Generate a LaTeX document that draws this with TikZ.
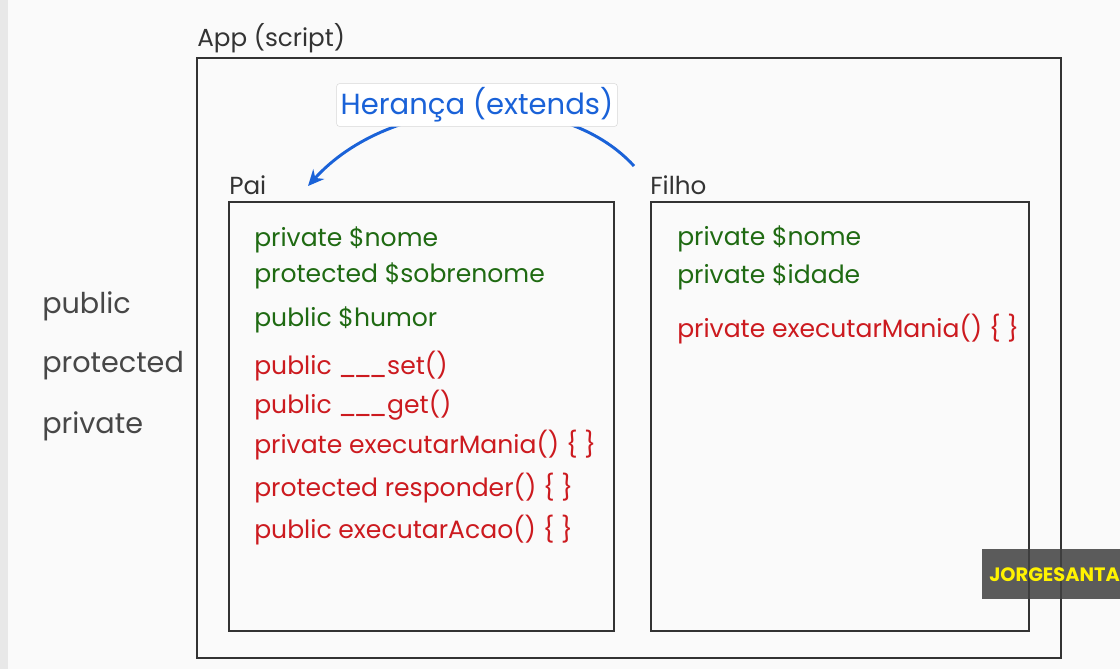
\documentclass[tikz,border=0pt]{standalone}
\usepackage{fontspec}
\setmainfont{Poppins}
\usetikzlibrary{arrows.meta}
\definecolor{ink}{HTML}{333333}
\definecolor{grn}{HTML}{1F6A12}
\definecolor{rd}{HTML}{CC1A1F}
\definecolor{blu}{HTML}{1A62D8}
\newcommand{\usc}{\_\kern-2.4pt\_\kern-2.4pt\_}
\tikzset{
  frame/.style={draw=ink, line width=1.5pt},
  lbl/.style={text=ink, anchor=west, inner sep=0pt, font=\fontsize{18.5}{22}\selectfont},
  side/.style={text=ink!90, anchor=west, inner sep=0pt, font=\fontsize{21.5}{24}\selectfont},
  attr/.style={text=grn, anchor=west, inner sep=0pt, yshift=-1.5pt, font=\fontsize{18.8}{22}\selectfont},
  meth/.style={text=rd, anchor=west, inner sep=0pt, yshift=-1.5pt, font=\fontsize{18.8}{22}\selectfont},
}
\begin{document}
\begin{tikzpicture}[x=0.75pt,y=-0.75pt]
\useasboundingbox (0,0) rectangle (1120,669);
\fill[white!98!black] (0,0) rectangle (1120,669);
\fill[black!9] (0,0) rectangle (8,669);
% outer box
\node[lbl] (applbl) at (197,38) {App (script)};
\draw[frame] (197,58) rectangle (1061,658);
% Pai
\node[lbl] (pailbl) at (229,185) {Pai};
\draw[frame] (229,202) rectangle (614,631);
\coordinate (paitip) at (308,186);
% Filho
\node[lbl] (filholbl) at (650,185) {Filho};
\draw[frame] (651,202) rectangle (1029,631);
\coordinate (filhostart) at (634,166);
% inheritance arrow
\draw[blu, line width=2.2pt, -{Stealth[length=12pt,width=11pt]}] (filhostart) .. controls (560,85) and (390,95) .. (paitip);
\node[draw=black!15, fill=white, rounded corners=2pt, inner sep=3pt, text=blu, font=\fontsize{21.8}{25}\selectfont] (heranca) at (477,105) {Herança (extends)};
% side labels
\node[side] (pub) at (42,306) {public};
\node[side] (prot) at (42,366) {protected};
\node[side] (priv) at (42,426) {private};
% Pai members
\node[attr] (p1) at (254,238) {private \$nome};
\node[attr] (p2) at (254,274) {protected \$sobrenome};
\node[attr] (p3) at (254,318) {public \$humor};
\node[meth] (p4) at (254,364) {public \usc set()};
\node[meth] (p5) at (254,403) {public \usc get()};
\node[meth] (p6) at (254,443) {private executarMania() \{ \}};
\node[meth] (p7) at (254,486) {protected responder() \{ \}};
\node[meth] (p8) at (254,528) {public executarAcao() \{ \}};
% Filho members
\node[attr] (f1) at (677,237) {private \$nome};
\node[attr] (f2) at (677,275) {private \$idade};
\node[meth] (f3) at (677,327) {private executarMania() \{ \}};
% watermark
\fill[black!75, opacity=0.85] (982,549) rectangle (1120,599);
\node[anchor=west, inner sep=0pt, text=yellow, font=\bfseries\fontsize{14.5}{16}\selectfont] (wm) at (989,575) {JORGESANTA};
\end{tikzpicture}
\end{document}
